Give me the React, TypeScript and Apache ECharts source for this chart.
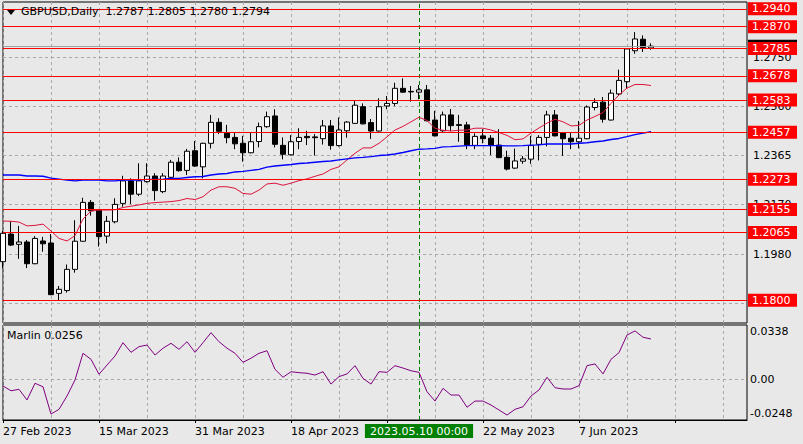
import React, { useEffect, useRef } from 'react';
import * as echarts from 'echarts';

const FONT = '"DejaVu Sans", Tahoma, Verdana, sans-serif';
const BG = '#e8e8e8';
const RED = '#ff0000';
const GRID_C = '#a8a8a8';
const GREEN = '#008000';

const titleText = 'GBPUSD,Daily  1.2787 1.2805 1.2780 1.2794';
const oscTitle = 'Marlin 0.0256';

const dates = [
  '27 Feb 2023', '28 Feb 2023', '1 Mar 2023', '2 Mar 2023', '3 Mar 2023', '6 Mar 2023', '7 Mar 2023', '8 Mar 2023', '9 Mar 2023', '10 Mar 2023',
  '13 Mar 2023', '14 Mar 2023', '15 Mar 2023', '16 Mar 2023', '17 Mar 2023', '20 Mar 2023', '21 Mar 2023', '22 Mar 2023', '23 Mar 2023', '24 Mar 2023',
  '27 Mar 2023', '28 Mar 2023', '29 Mar 2023', '30 Mar 2023', '31 Mar 2023', '3 Apr 2023', '4 Apr 2023', '5 Apr 2023', '6 Apr 2023', '7 Apr 2023',
  '10 Apr 2023', '11 Apr 2023', '12 Apr 2023', '13 Apr 2023', '14 Apr 2023', '17 Apr 2023', '18 Apr 2023', '19 Apr 2023', '20 Apr 2023', '21 Apr 2023',
  '24 Apr 2023', '25 Apr 2023', '26 Apr 2023', '27 Apr 2023', '28 Apr 2023', '1 May 2023', '2 May 2023', '3 May 2023', '4 May 2023', '5 May 2023',
  '8 May 2023', '9 May 2023', '10 May 2023', '11 May 2023', '12 May 2023', '15 May 2023', '16 May 2023', '17 May 2023', '18 May 2023', '19 May 2023',
  '22 May 2023', '23 May 2023', '24 May 2023', '25 May 2023', '26 May 2023', '29 May 2023', '30 May 2023', '31 May 2023', '1 Jun 2023', '2 Jun 2023',
  '5 Jun 2023', '6 Jun 2023', '7 Jun 2023', '8 Jun 2023', '9 Jun 2023', '12 Jun 2023', '13 Jun 2023', '14 Jun 2023', '15 Jun 2023', '16 Jun 2023',
  '19 Jun 2023', '20 Jun 2023',
];

const opens = [
  1.1951, 1.2059, 1.2019, 1.2028, 1.1943, 1.2032, 1.2024, 1.1827, 1.1838, 1.1921,
  1.2031, 1.2183, 1.2153, 1.2051, 1.2107, 1.2179, 1.2267, 1.2215, 1.2264, 1.2286,
  1.2225, 1.2281, 1.2340, 1.2308, 1.2385, 1.2322, 1.2414, 1.2496, 1.2453, 1.2437,
  1.2414, 1.2377, 1.2421, 1.2479, 1.2521, 1.2406, 1.2369, 1.2421, 1.2441, 1.2439,
  1.2432, 1.2482, 1.2405, 1.2463, 1.2492, 1.2557, 1.2495, 1.2462, 1.2560, 1.2570,
  1.2629, 1.2617, 1.2614, 1.2623, 1.2505, 1.2463, 1.2525, 1.2487, 1.2486, 1.2406,
  1.2443, 1.2434, 1.2407, 1.2359, 1.2317, 1.2344, 1.2352, 1.2410, 1.2437, 1.2525,
  1.2455, 1.2434, 1.2420, 1.2432, 1.2554, 1.2575, 1.2505, 1.2607, 1.2655, 1.2776,
  1.2821, 1.2787,
];
const highs = [
  1.2071, 1.2110, 1.2091, 1.2036, 1.2051, 1.2048, 1.2059, 1.1856, 1.1940, 1.2113,
  1.2201, 1.2192, 1.2156, 1.2130, 1.2199, 1.2287, 1.2277, 1.2336, 1.2336, 1.2297,
  1.2297, 1.2349, 1.2359, 1.2392, 1.2423, 1.2416, 1.2525, 1.2512, 1.2486, 1.2455,
  1.2443, 1.2455, 1.2495, 1.2538, 1.2547, 1.2437, 1.2446, 1.2473, 1.2463, 1.2450,
  1.2505, 1.2505, 1.2515, 1.2501, 1.2581, 1.2570, 1.2509, 1.2590, 1.2599, 1.2651,
  1.2668, 1.2638, 1.2642, 1.2642, 1.2541, 1.2538, 1.2548, 1.2525, 1.2498, 1.2453,
  1.2469, 1.2446, 1.2469, 1.2385, 1.2393, 1.2364, 1.2443, 1.2446, 1.2541, 1.2544,
  1.2458, 1.2456, 1.2501, 1.2562, 1.2590, 1.2595, 1.2624, 1.2702, 1.2786, 1.2849,
  1.2836, 1.2805,
];
const lows = [
  1.1925, 1.2012, 1.1962, 1.1926, 1.1941, 1.1990, 1.1820, 1.1801, 1.1830, 1.1908,
  1.2029, 1.2131, 1.2010, 1.2023, 1.2101, 1.2166, 1.2177, 1.2208, 1.2260, 1.2190,
  1.2219, 1.2277, 1.2303, 1.2290, 1.2322, 1.2277, 1.2394, 1.2450, 1.2414, 1.2391,
  1.2342, 1.2375, 1.2398, 1.2475, 1.2398, 1.2351, 1.2366, 1.2391, 1.2407, 1.2366,
  1.2409, 1.2389, 1.2401, 1.2436, 1.2490, 1.2488, 1.2431, 1.2460, 1.2547, 1.2560,
  1.2612, 1.2577, 1.2586, 1.2500, 1.2441, 1.2459, 1.2462, 1.2420, 1.2391, 1.2391,
  1.2414, 1.2368, 1.2356, 1.2308, 1.2314, 1.2334, 1.2334, 1.2347, 1.2402, 1.2441,
  1.2365, 1.2391, 1.2394, 1.2430, 1.2543, 1.2495, 1.2503, 1.2601, 1.2629, 1.2764,
  1.2771, 1.2780,
];
const closes = [
  1.2062, 1.2016, 1.2028, 1.1943, 1.2042, 1.2021, 1.1822, 1.1843, 1.1921, 1.2031,
  1.2183, 1.2150, 1.2049, 1.2109, 1.2175, 1.2267, 1.2215, 1.2267, 1.2286, 1.2229,
  1.2286, 1.2340, 1.2307, 1.2383, 1.2325, 1.2414, 1.2496, 1.2461, 1.2436, 1.2412,
  1.2377, 1.2420, 1.2479, 1.2518, 1.2410, 1.2371, 1.2420, 1.2437, 1.2436, 1.2436,
  1.2482, 1.2405, 1.2466, 1.2497, 1.2563, 1.2490, 1.2462, 1.2557, 1.2570, 1.2629,
  1.2614, 1.2615, 1.2623, 1.2502, 1.2443, 1.2525, 1.2483, 1.2484, 1.2407, 1.2441,
  1.2432, 1.2407, 1.2358, 1.2313, 1.2345, 1.2353, 1.2405, 1.2437, 1.2525, 1.2443,
  1.2432, 1.2420, 1.2434, 1.2556, 1.2574, 1.2508, 1.2610, 1.2660, 1.2783, 1.2822,
  1.2788, 1.2794,
];

const maFast = [
  1.2110, 1.2109, 1.2106, 1.2091, 1.2093, 1.2098, 1.2071, 1.2042, 1.2032, 1.2053,
  1.2118, 1.2149, 1.2153, 1.2153, 1.2154, 1.2163, 1.2168, 1.2173, 1.2179, 1.2182,
  1.2184, 1.2186, 1.2190, 1.2198, 1.2194, 1.2205, 1.2231, 1.2244, 1.2244, 1.2238,
  1.2218, 1.2215, 1.2231, 1.2255, 1.2258, 1.2250, 1.2258, 1.2268, 1.2275, 1.2285,
  1.2294, 1.2312, 1.2322, 1.2349, 1.2375, 1.2396, 1.2396, 1.2414, 1.2439, 1.2466,
  1.2480, 1.2498, 1.2516, 1.2503, 1.2473, 1.2465, 1.2462, 1.2465, 1.2466, 1.2473,
  1.2473, 1.2466, 1.2456, 1.2445, 1.2428, 1.2431, 1.2454, 1.2474, 1.2493, 1.2508,
  1.2498, 1.2482, 1.2484, 1.2505, 1.2519, 1.2534, 1.2570, 1.2603, 1.2630, 1.2644,
  1.2644, 1.2640,
];
const maSlow = [
  1.2290, 1.2290, 1.2290, 1.2286, 1.2286, 1.2285, 1.2278, 1.2274, 1.2270, 1.2267,
  1.2270, 1.2270, 1.2270, 1.2267, 1.2267, 1.2270, 1.2270, 1.2270, 1.2273, 1.2273,
  1.2274, 1.2277, 1.2277, 1.2280, 1.2283, 1.2284, 1.2290, 1.2294, 1.2296, 1.2302,
  1.2304, 1.2308, 1.2312, 1.2321, 1.2325, 1.2328, 1.2331, 1.2335, 1.2337, 1.2340,
  1.2343, 1.2345, 1.2349, 1.2353, 1.2357, 1.2359, 1.2362, 1.2366, 1.2368, 1.2372,
  1.2378, 1.2385, 1.2391, 1.2392, 1.2394, 1.2400, 1.2401, 1.2403, 1.2405, 1.2405,
  1.2405, 1.2405, 1.2405, 1.2404, 1.2404, 1.2405, 1.2407, 1.2408, 1.2411, 1.2411,
  1.2411, 1.2411, 1.2414, 1.2416, 1.2420, 1.2423, 1.2429, 1.2433, 1.2440, 1.2448,
  1.2454, 1.2459,
];
const marlin = [
  -0.0040, -0.0070, -0.0061, -0.0128, -0.0023, -0.0045, -0.0217, -0.0187, -0.0103, -0.0002,
  0.0166, 0.0128, 0.0034, 0.0092, 0.0149, 0.0233, 0.0172, 0.0208, 0.0218, 0.0155,
  0.0198, 0.0229, 0.0191, 0.0239, 0.0172, 0.0233, 0.0296, 0.0239, 0.0198, 0.0166,
  0.0109, 0.0135, 0.0166, 0.0182, 0.0065, 0.0015, 0.0050, 0.0044, 0.0040, 0.0029,
  0.0050, -0.0028, 0.0019, 0.0036, 0.0088, 0.0008, -0.0028, 0.0050, 0.0046, 0.0088,
  0.0073, 0.0056, 0.0046, -0.0076, -0.0135, -0.0055, -0.0097, -0.0097, -0.0174, -0.0135,
  -0.0135, -0.0160, -0.0191, -0.0223, -0.0187, -0.0171, -0.0103, -0.0065, 0.0015, -0.0051,
  -0.0059, -0.0059, -0.0038, 0.0088, 0.0099, 0.0036, 0.0128, 0.0170, 0.0281, 0.0307,
  0.0267, 0.0256,
];

// horizontal levels (red lines with labels)
const levels = [1.2940, 1.2870, 1.2785, 1.2678, 1.2583, 1.2457, 1.2273, 1.2155, 1.2065, 1.1800];
// price-scale grid lines and their tick labels
const gridPrices = [1.2750, 1.2557, 1.2367, 1.2174, 1.1980, 1.1790];
const gridLabels = ['1.2750', '1.2560', '1.2365', '1.2170', '1.1980', ''];
const bidPrice = 1.2794;
const bidLabel = '1.2794';
// oscillator scale labels
const oscTicks = [0.0338, 0.0, -0.0248];
const oscLabels = ['0.0338', '0.00', '-0.0248'];
// cursor (vertical dashed line)
const cursorIndex = 52;
const cursorLabel = '2023.05.10 00:00';

const FUTURE_SLOTS = 12;
const categories = [...dates, ...Array.from({ length: FUTURE_SLOTS }, (_, k) => `__future${k}`)];

const Y_MIN = 1.17112;
const Y_MAX = 1.29666;
const O_MIN = -0.02543;
const O_MAX = 0.03443;

const txt = { fontFamily: FONT, fontSize: 11 };
const HIDDEN_LINE = { color: 'rgba(0,0,0,0)', width: 0 };

function buildOption(): any {
  const splitX = { show: true, interval: 5, lineStyle: { color: GRID_C, type: [3, 3], width: 1 } };
  return {
    animation: false,
    backgroundColor: BG,
    textStyle: { fontFamily: FONT },
    title: [
      { text: titleText, left: 21, top: 6, padding: 0, textStyle: { ...txt, fontWeight: 'normal', color: '#000' } },
      { text: oscTitle, left: 7, top: 330, padding: 0, textStyle: { ...txt, fontWeight: 'normal', color: '#000' } },
    ],
    graphic: [
      { type: 'polygon', shape: { points: [[7, 10], [15, 10], [11, 15]] }, style: { fill: '#000' }, silent: true },
    ],
    grid: [
      { left: 3, top: 2, width: 744, height: 321, show: true, borderColor: '#000', borderWidth: 1, backgroundColor: 'transparent' },
      { left: 3, top: 325, width: 744, height: 95, show: true, borderColor: '#000', borderWidth: 1, backgroundColor: 'transparent' },
    ],
    xAxis: [
      {
        type: 'category', gridIndex: 0, data: categories, boundaryGap: false,
        axisLine: { show: false, onZero: false }, axisTick: { show: false }, axisLabel: { show: false },
        splitLine: splitX,
      },
      {
        type: 'category', gridIndex: 1, data: categories, boundaryGap: false, position: 'bottom',
        axisLine: { show: true, onZero: false, lineStyle: { color: '#000' } },
        axisTick: { show: true, interval: 11, length: 3, lineStyle: { color: '#000' } },
        axisLabel: {
          show: true, interval: 11, align: 'left', margin: 6, color: '#000', ...txt,
          // labels hidden under the cursor's date box are not drawn
          formatter: (v: string, idx: number) =>
            v.startsWith('__future') || Math.abs(idx - cursorIndex) < 7 ? '' : v,
        },
        splitLine: splitX,
      },
    ],
    yAxis: [
      {
        type: 'value', gridIndex: 0, position: 'right', min: Y_MIN, max: Y_MAX, scale: true,
        axisLine: { show: false }, axisTick: { show: false }, axisLabel: { show: false }, splitLine: { show: false },
      },
      {
        type: 'value', gridIndex: 1, position: 'right', min: O_MIN, max: O_MAX, scale: true,
        axisLine: { show: false }, axisTick: { show: false }, axisLabel: { show: false }, splitLine: { show: false },
      },
    ],
    series: [
      {
        name: 'grid',
        type: 'line', xAxisIndex: 0, yAxisIndex: 0, data: maSlow, symbol: 'none', clip: false,
        lineStyle: { width: 0, opacity: 0 }, silent: true, z: 1,
        markLine: {
          silent: true, symbol: ['none', 'none'], z: 1, precision: 4,
          lineStyle: { color: GRID_C, type: [3, 3], width: 1 },
          label: { show: true, position: 'end', distance: 6, formatter: '{b}', color: '#000', ...txt },
          data: [
            ...gridPrices.map((v, k) => ({ yAxis: v, name: gridLabels[k] })),
            { xAxis: cursorIndex, name: '', lineStyle: { color: GREEN, type: [4, 3], width: 1 }, label: { show: false } },
          ],
        },
      },
      {
        name: 'price', type: 'candlestick', xAxisIndex: 0, yAxisIndex: 0,
        data: opens.map((o, i) => [o, closes[i], lows[i], highs[i]]),
        barWidth: 5, z: 2,
        itemStyle: { color: '#ffffff', color0: '#000000', borderColor: '#000000', borderColor0: '#000000', borderWidth: 1 },
      },
      {
        name: 'MA fast', type: 'line', xAxisIndex: 0, yAxisIndex: 0, data: maFast, symbol: 'none', z: 3,
        lineStyle: { color: '#dc143c', width: 1 }, silent: true,
      },
      {
        name: 'MA slow', type: 'line', xAxisIndex: 0, yAxisIndex: 0, data: maSlow, symbol: 'none', z: 3, clip: false,
        lineStyle: { color: '#0000ff', width: 1.4 }, silent: true,
        markLine: {
          silent: true, symbol: ['none', 'none'], z: 4, precision: 4,
          lineStyle: { color: '#a0a0a0', type: 'solid', width: 1 },
          label: {
            show: true, position: 'end', distance: 1, formatter: '{b}', color: '#fff', backgroundColor: '#000',
            padding: [1, 4, 0, 4], width: 41, lineHeight: 12, ...txt,
          },
          data: [{ yAxis: bidPrice, name: bidLabel }],
        },
      },
      {
        name: 'levels', type: 'line', xAxisIndex: 0, yAxisIndex: 0, data: maFast, symbol: 'none', clip: false,
        lineStyle: { width: 0, opacity: 0 }, silent: true, z: 5,
        markLine: {
          silent: true, symbol: ['none', 'none'], z: 5, precision: 4,
          lineStyle: { color: RED, type: 'solid', width: 1 },
          label: {
            show: true, position: 'end', distance: 1, formatter: '{b}', color: '#fff', backgroundColor: RED,
            padding: [1, 4, 0, 4], width: 41, lineHeight: 12, ...txt,
          },
          data: levels.map((v) => ({ yAxis: v, name: v.toFixed(4) })),
        },
      },
      {
        name: 'Marlin', type: 'line', xAxisIndex: 1, yAxisIndex: 1, data: marlin, symbol: 'none', z: 3, clip: false,
        lineStyle: { color: '#800080', width: 1 }, silent: true,
        markLine: {
          silent: true, symbol: ['none', 'none'], z: 2, precision: 4,
          lineStyle: { color: GRID_C, type: [3, 3], width: 1 },
          label: { show: true, position: 'end', distance: 3, formatter: '{b}', color: '#000', ...txt },
          data: [
            { yAxis: oscTicks[1], name: oscLabels[1] },
            { yAxis: oscTicks[0], name: oscLabels[0], lineStyle: HIDDEN_LINE, label: { verticalAlign: 'top' } },
            { yAxis: oscTicks[2], name: oscLabels[2], lineStyle: HIDDEN_LINE, label: { verticalAlign: 'bottom' } },
            {
              xAxis: cursorIndex, name: cursorLabel,
              lineStyle: { color: GREEN, type: [4, 3], width: 1 },
              label: {
                show: true, position: 'start', distance: 4, color: '#fff', backgroundColor: GREEN,
                padding: [2, 5, 1, 5], lineHeight: 11, ...txt,
              },
            },
          ],
        },
      },
    ],
  };
}

export default function App() {
  const ref = useRef<HTMLDivElement>(null);
  useEffect(() => {
    document.body.style.margin = '0';
    document.body.style.background = BG;
    const chart = echarts.init(ref.current as HTMLDivElement, null, { renderer: 'svg' });
    chart.setOption(buildOption());
    return () => {
      chart.dispose();
    };
  }, []);
  return <div ref={ref} style={{ width: 803, height: 444 }} />;
}
